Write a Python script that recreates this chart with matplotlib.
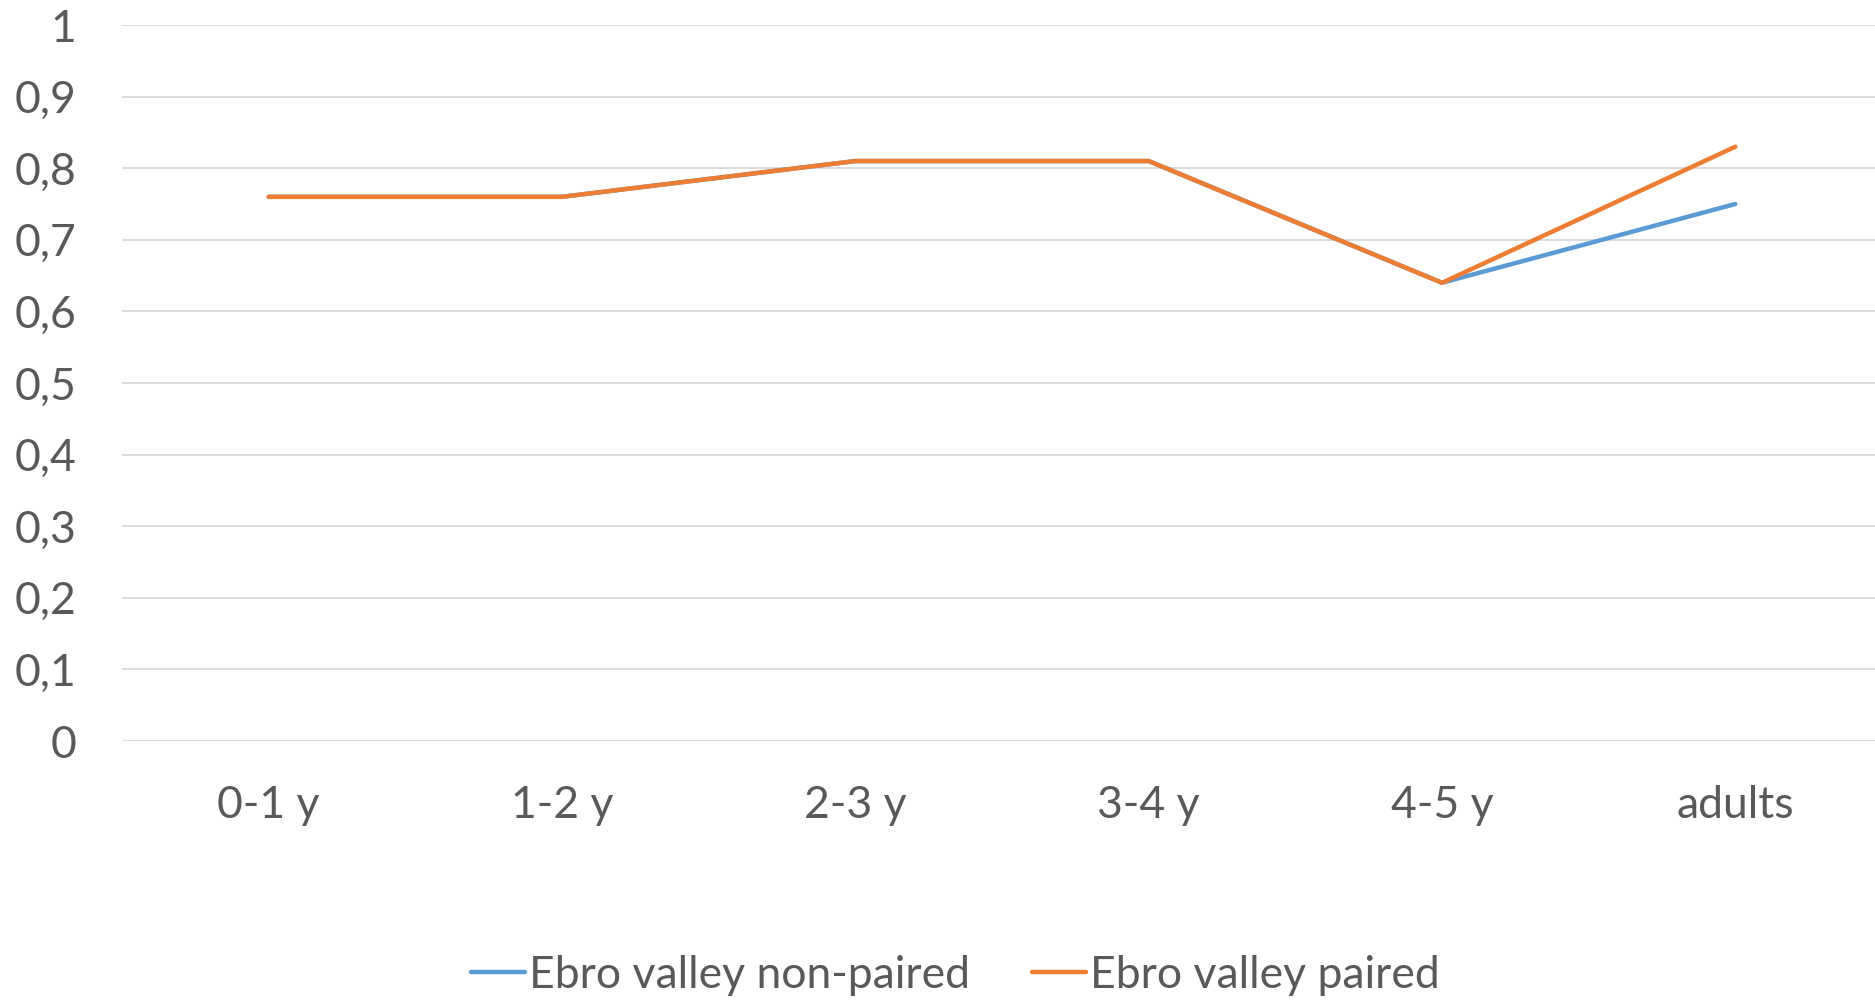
import matplotlib
matplotlib.use("Agg")
import matplotlib.pyplot as plt
from matplotlib.ticker import FuncFormatter, MultipleLocator

categories = ["0-1 y", "1-2 y", "2-3 y", "3-4 y", "4-5 y", "adults"]
non_paired = [0.76, 0.76, 0.81, 0.81, 0.64, 0.75]
paired = [0.76, 0.76, 0.81, 0.81, 0.64, 0.83]
series_names = ["Ebro valley non-paired", "Ebro valley paired"]

plt.rcParams['font.family'] = ['Lato', 'DejaVu Sans']
text_color = "#595959"
fs = 32

fig = plt.figure(figsize=(18.75, 10.01), dpi=100)
ax = fig.add_axes([122/1875, (1001-741)/1001, (1882 - 122)/1875, (741-25)/1001])

x = list(range(len(categories)))
ax.plot(x, non_paired, color="#5B9BD5", lw=3.2, solid_capstyle="round", solid_joinstyle="round",
        label=series_names[0], zorder=3)
ax.plot(x, paired, color="#ED7D31", lw=3.2, solid_capstyle="round", solid_joinstyle="round",
        label=series_names[1], zorder=4)

ax.set_xlim(-0.5, len(categories) - 0.5)
ax.set_ylim(0, 1)
ax.yaxis.set_major_locator(MultipleLocator(0.1))
ax.yaxis.set_major_formatter(FuncFormatter(lambda v, p: ("%g" % round(v, 1)).replace(".", ",")))
ax.set_xticks(x)
ax.set_xticklabels(categories)
ax.grid(axis="y", color="#D9D9D9", lw=1.3)
ax.set_axisbelow(True)
for s in ax.spines.values():
    s.set_visible(False)
ax.tick_params(axis="both", length=0, labelsize=fs, colors=text_color)
ax.tick_params(axis="y", pad=33)
ax.tick_params(axis="x", pad=32)

leg = fig.legend(loc="center", bbox_to_anchor=(955/1875, 1 - 975/1001), ncol=2, frameon=False,
                 fontsize=fs, handlelength=1.22, handletextpad=0.08, columnspacing=1.4,
                 labelcolor=text_color)

fig.savefig("out.png", dpi=100)
